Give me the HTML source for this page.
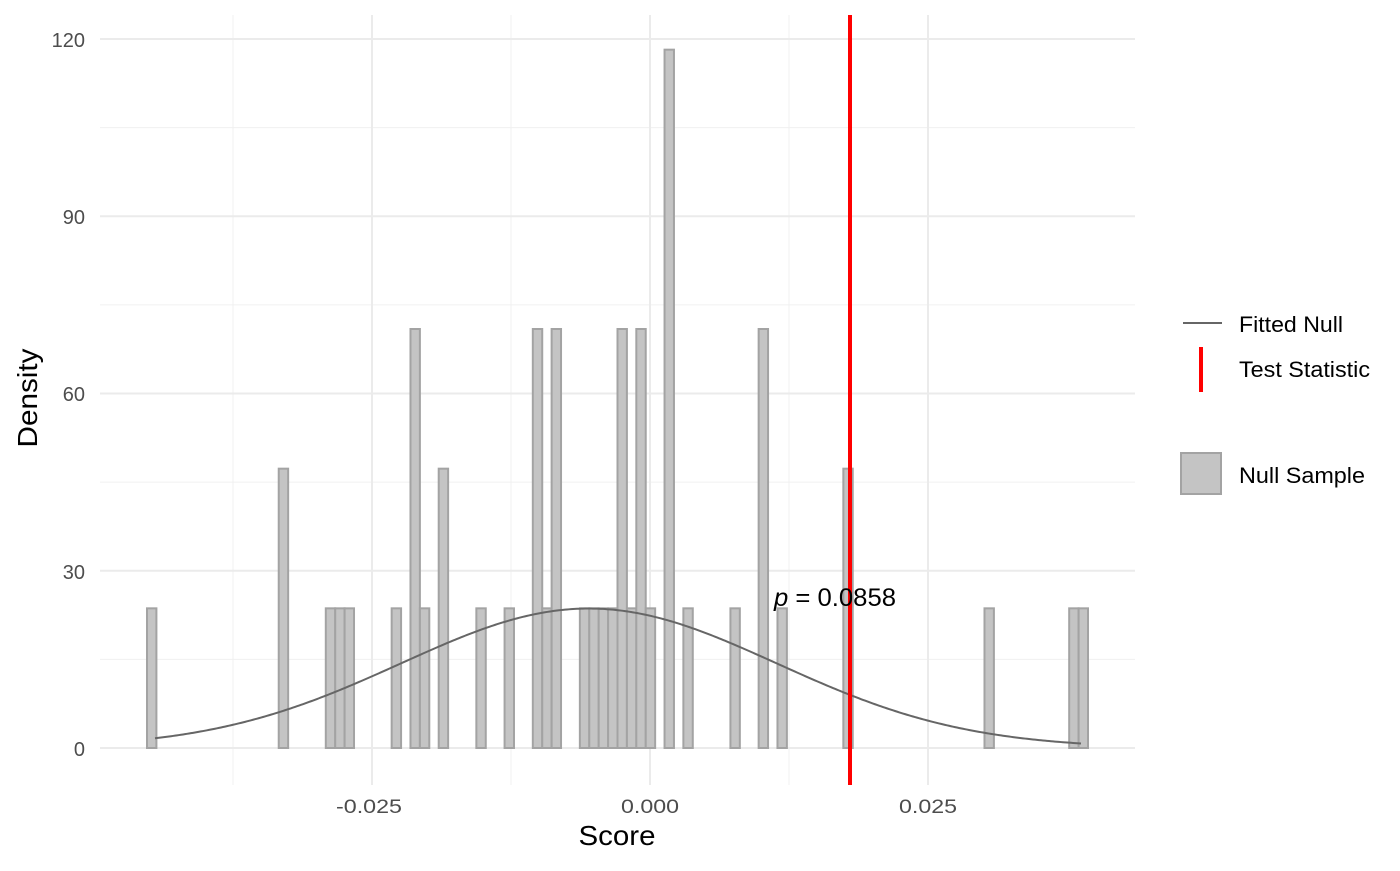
<!DOCTYPE html>
<html><head><meta charset="utf-8"><style>
html,body{margin:0;padding:0;background:#fff;}
svg text{font-family:"Liberation Sans",Arial,sans-serif;}
</style></head><body>
<svg id="s" width="1400" height="866" xmlns="http://www.w3.org/2000/svg">
<g stroke="#f0f0f0" stroke-width="1">
<line x1="100" x2="1135" y1="659.4" y2="659.4"/>
<line x1="100" x2="1135" y1="482.1" y2="482.1"/>
<line x1="100" x2="1135" y1="304.9" y2="304.9"/>
<line x1="100" x2="1135" y1="127.6" y2="127.6"/>
<line y1="15" y2="785" x1="233" x2="233"/>
<line y1="15" y2="785" x1="511" x2="511"/>
<line y1="15" y2="785" x1="789" x2="789"/>
</g>
<g stroke="#ebebeb" stroke-width="2">
<line x1="100" x2="1135" y1="748" y2="748"/>
<line x1="100" x2="1135" y1="570.8" y2="570.8"/>
<line x1="100" x2="1135" y1="393.5" y2="393.5"/>
<line x1="100" x2="1135" y1="216.3" y2="216.3"/>
<line x1="100" x2="1135" y1="39" y2="39"/>
<line y1="15" y2="785" x1="372" x2="372"/>
<line y1="15" y2="785" x1="650" x2="650"/>
<line y1="15" y2="785" x1="928" x2="928"/>
</g>
<g id="bars" fill="#c4c4c4" stroke="#a3a3a3" stroke-width="2"></g>
<path id="curve" fill="none" stroke="#666" stroke-width="2"/>
<line x1="850" x2="850" y1="15" y2="785" stroke="#ff0000" stroke-width="4"/>
<text x="774" y="606" font-size="25" fill="#000" textLength="122" lengthAdjust="spacingAndGlyphs"><tspan font-style="italic">p</tspan> = 0.0858</text>
<g font-size="20" fill="#4d4d4d" text-anchor="end">
<text x="85" y="756">0</text>
<text x="85" y="579">30</text>
<text x="85" y="401">60</text>
<text x="85" y="224">90</text>
<text x="85" y="47">120</text>
</g>
<g font-size="19" fill="#4d4d4d" text-anchor="middle">
<text x="369" y="813" textLength="66" lengthAdjust="spacingAndGlyphs">-0.025</text>
<text x="650" y="813" textLength="58" lengthAdjust="spacingAndGlyphs">0.000</text>
<text x="928" y="813" textLength="58" lengthAdjust="spacingAndGlyphs">0.025</text>
</g>
<text x="617" y="845" font-size="28" text-anchor="middle" fill="#000" textLength="77" lengthAdjust="spacingAndGlyphs">Score</text>
<text transform="translate(37,398) rotate(-90)" font-size="28" text-anchor="middle" fill="#000" textLength="99" lengthAdjust="spacingAndGlyphs">Density</text>
<line x1="1183" x2="1222" y1="323" y2="323" stroke="#666" stroke-width="2"/>
<text x="1239" y="332" font-size="22" fill="#000" textLength="104" lengthAdjust="spacingAndGlyphs">Fitted Null</text>
<line x1="1201" x2="1201" y1="347" y2="392" stroke="#ff0000" stroke-width="4"/>
<text x="1239" y="377" font-size="22" fill="#000" textLength="131" lengthAdjust="spacingAndGlyphs">Test Statistic</text>
<rect x="1181" y="453" width="40" height="41" fill="#c4c4c4" stroke="#a3a3a3" stroke-width="2"/>
<text x="1239" y="483" font-size="22" fill="#000" textLength="126" lengthAdjust="spacingAndGlyphs">Null Sample</text>
</svg>
<script>
var bins={0:1,14:2,19:1,20:1,21:1,26:1,28:3,29:1,31:2,35:1,38:1,41:3,42:1,43:3,46:1,47:1,48:1,49:1,50:3,51:1,52:3,53:1,55:5,57:1,62:1,65:3,67:1,74:2,89:1,98:1,99:1};
var w=9.41,x0=147,g=document.getElementById('bars'),h='';
for(var i=0;i<100;i++){var c=bins[i]||0;var ht=c*23.64*5.908;
h+='<rect x="'+(x0+i*w).toFixed(2)+'" y="'+(748-ht).toFixed(2)+'" width="'+w+'" height="'+ht.toFixed(2)+'"/>';}
g.innerHTML=h;
var d='',m=-0.0055,sd=0.0169;
for(var px=155;px<=1081;px+=2){var v=(px-650)/278*0.025;var y=Math.exp(-0.5*Math.pow((v-m)/sd,2))/(sd*Math.sqrt(2*Math.PI));
d+=(d?'L':'M')+px+','+(748-y*5.908).toFixed(2);}
document.getElementById('curve').setAttribute('d',d);
</script>
</body></html>
